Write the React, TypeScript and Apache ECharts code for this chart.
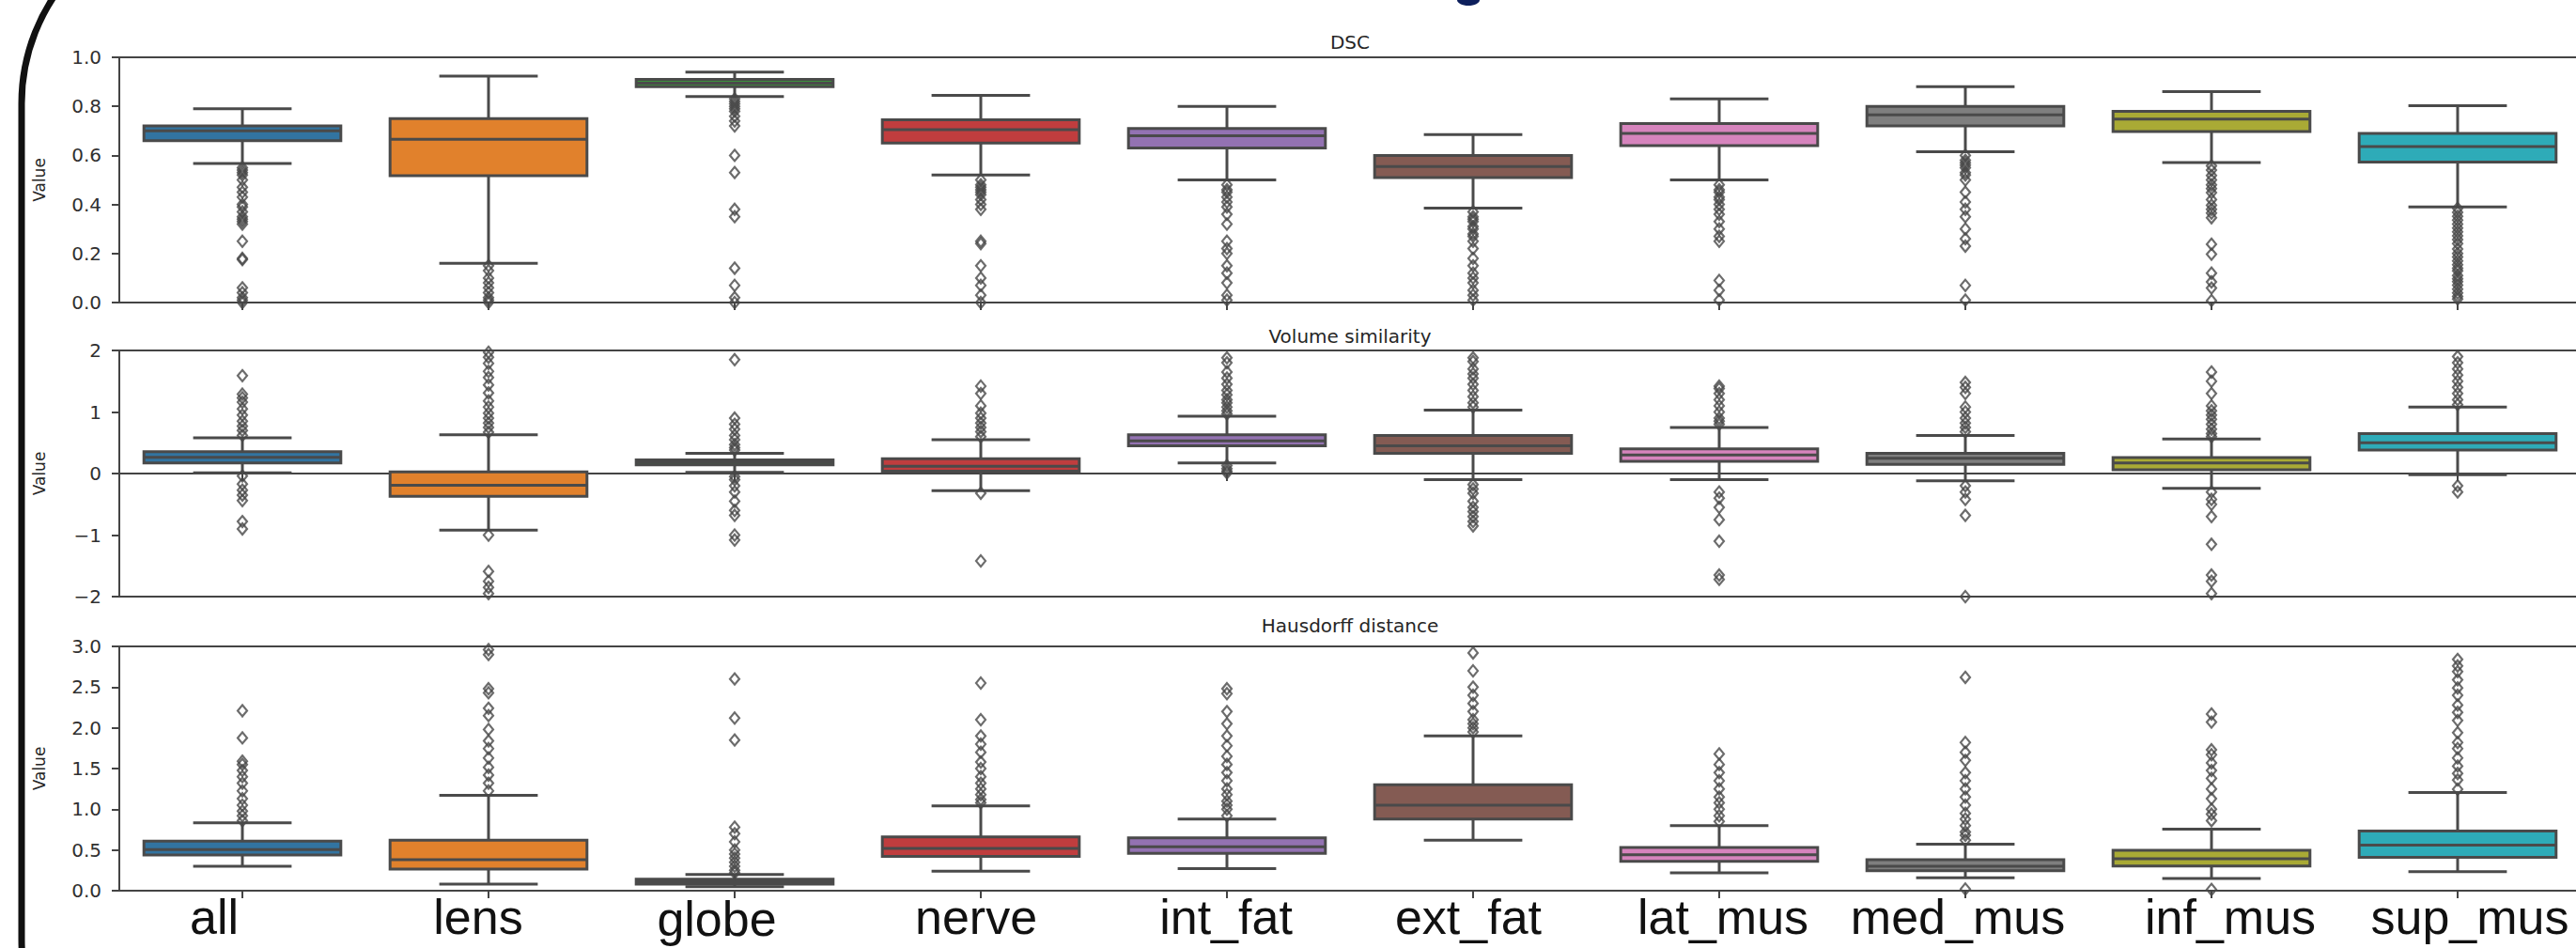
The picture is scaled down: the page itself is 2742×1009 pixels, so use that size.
import React, { useEffect, useRef } from "react";
import * as echarts from "echarts";

const categories = ["all", "lens", "globe", "nerve", "int_fat", "ext_fat", "lat_mus", "med_mus", "inf_mus", "sup_mus"];
const palette = ["#3274a1", "#e1812c", "#3a923a", "#c03d3e", "#9372b2", "#845b53", "#d684bd", "#7f7f7f", "#a9aa35", "#2eabb8"];

// [low whisker, Q1, median, Q3, high whisker]
const dscBoxes = [
  [0.567, 0.66, 0.7, 0.72, 0.79],
  [0.16, 0.517, 0.666, 0.75, 0.923],
  [0.84, 0.88, 0.895, 0.91, 0.94],
  [0.52, 0.65, 0.705, 0.745, 0.845],
  [0.5, 0.63, 0.68, 0.71, 0.8],
  [0.385, 0.51, 0.555, 0.6, 0.685],
  [0.5, 0.64, 0.69, 0.73, 0.83],
  [0.615, 0.72, 0.765, 0.8, 0.88],
  [0.571, 0.697, 0.748, 0.78, 0.86],
  [0.39, 0.573, 0.636, 0.69, 0.803],
];
const dscOutliers = [
  [0.55, 0.54, 0.53, 0.52, 0.5, 0.47, 0.45, 0.43, 0.4, 0.39, 0.37, 0.35, 0.34, 0.33, 0.32, 0.25, 0.18, 0.175, 0.06, 0.04, 0.02, 0.01, 0.0],
  [0.15, 0.13, 0.1, 0.08, 0.06, 0.04, 0.02, 0.01, 0.0],
  [0.83, 0.82, 0.81, 0.8, 0.79, 0.78, 0.76, 0.74, 0.72, 0.6, 0.53, 0.38, 0.35, 0.14, 0.07, 0.02, 0.0],
  [0.5, 0.48, 0.47, 0.46, 0.45, 0.44, 0.42, 0.4, 0.38, 0.25, 0.24, 0.15, 0.1, 0.07, 0.03, 0.0],
  [0.48, 0.46, 0.45, 0.43, 0.41, 0.39, 0.36, 0.32, 0.25, 0.22, 0.2, 0.15, 0.12, 0.08, 0.03, 0.01],
  [0.37, 0.35, 0.34, 0.33, 0.31, 0.3, 0.28, 0.27, 0.25, 0.22, 0.18, 0.15, 0.12, 0.1, 0.08, 0.05, 0.03, 0.01],
  [0.48, 0.46, 0.45, 0.43, 0.42, 0.4, 0.38, 0.36, 0.33, 0.3, 0.27, 0.25, 0.09, 0.05, 0.01],
  [0.6, 0.58, 0.57, 0.56, 0.55, 0.53, 0.52, 0.5, 0.45, 0.41, 0.38, 0.35, 0.3, 0.26, 0.23, 0.07, 0.01],
  [0.557, 0.54, 0.518, 0.5, 0.48, 0.465, 0.448, 0.42, 0.397, 0.38, 0.365, 0.346, 0.238, 0.197, 0.12, 0.084, 0.059, 0.008],
  [0.384, 0.368, 0.352, 0.336, 0.32, 0.304, 0.288, 0.272, 0.257, 0.24, 0.218, 0.2, 0.186, 0.17, 0.154, 0.14, 0.129, 0.11, 0.097, 0.085, 0.071, 0.055, 0.039, 0.025, 0.014],
];

const volBoxes = [
  [0.01, 0.173, 0.265, 0.356, 0.58],
  [-0.92, -0.37, -0.19, 0.026, 0.63],
  [0.02, 0.14, 0.18, 0.22, 0.33],
  [-0.28, 0.04, 0.12, 0.24, 0.55],
  [0.17, 0.45, 0.53, 0.63, 0.93],
  [-0.1, 0.33, 0.45, 0.62, 1.03],
  [-0.1, 0.2, 0.3, 0.4, 0.75],
  [-0.12, 0.15, 0.25, 0.33, 0.62],
  [-0.24, 0.06, 0.17, 0.26, 0.56],
  [-0.02, 0.38, 0.5, 0.65, 1.08],
];
const volOutliers = [
  [1.59, 1.29, 1.23, 1.16, 1.05, 0.95, 0.85, 0.77, 0.7, 0.62, -0.04, -0.17, -0.27, -0.35, -0.44, -0.78, -0.9],
  [0.67, 0.75, 0.82, 0.9, 0.98, 1.08, 1.18, 1.31, 1.44, 1.56, 1.66, 1.79, 1.89, 1.97, -1.0, -1.59, -1.75, -1.85, -1.95],
  [0.38, 0.42, 0.47, 0.55, 0.62, 0.72, 0.8, 0.9, 1.85, -0.05, -0.1, -0.2, -0.3, -0.45, -0.6, -0.68, -1.0, -1.08],
  [0.6, 0.68, 0.75, 0.82, 0.9, 0.98, 1.1, 1.3, 1.42, -0.32, -1.42],
  [0.97, 1.02, 1.08, 1.15, 1.2, 1.28, 1.35, 1.45, 1.55, 1.65, 1.8, 1.88, 0.13, 0.08, 0.04, 0.01],
  [1.08, 1.15, 1.25, 1.35, 1.45, 1.55, 1.62, 1.7, 1.82, 1.88, -0.18, -0.25, -0.32, -0.45, -0.55, -0.62, -0.7, -0.78, -0.85],
  [0.8, 0.85, 0.9, 1.0, 1.1, 1.2, 1.3, 1.38, 1.42, -0.3, -0.4, -0.55, -0.75, -1.1, -1.65, -1.72],
  [0.68, 0.75, 0.82, 0.9, 1.0, 1.08, 1.3, 1.4, 1.48, -0.2, -0.3, -0.42, -0.68, -2.0],
  [0.6, 0.65, 0.72, 0.8, 0.88, 0.95, 1.02, 1.1, 1.3, 1.5, 1.65, -0.3, -0.42, -0.5, -0.7, -1.15, -1.65, -1.75, -1.95],
  [1.12, 1.2, 1.3, 1.4, 1.5, 1.6, 1.7, 1.8, 1.9, -0.2, -0.3],
];

const hausBoxes = [
  [0.3, 0.438, 0.504, 0.61, 0.834],
  [0.08, 0.265, 0.38, 0.62, 1.17],
  [0.05, 0.08, 0.11, 0.14, 0.2],
  [0.24, 0.42, 0.52, 0.66, 1.04],
  [0.27, 0.46, 0.54, 0.65, 0.88],
  [0.62, 0.88, 1.05, 1.3, 1.9],
  [0.22, 0.36, 0.44, 0.53, 0.8],
  [0.158, 0.245, 0.3, 0.38, 0.57],
  [0.15, 0.304, 0.392, 0.496, 0.757],
  [0.235, 0.41, 0.56, 0.734, 1.207],
];
const hausOutliers = [
  [2.21, 1.876, 1.59, 1.55, 1.476, 1.4, 1.32, 1.226, 1.13, 1.05, 0.977, 0.92, 0.86],
  [2.96, 2.9, 2.48, 2.43, 2.24, 2.15, 1.98, 1.84, 1.745, 1.63, 1.515, 1.42, 1.32, 1.226],
  [0.22, 0.25, 0.3, 0.35, 0.4, 0.45, 0.5, 0.6, 0.7, 0.78, 1.85, 2.12, 2.6],
  [1.08, 1.12, 1.18, 1.25, 1.32, 1.4, 1.5, 1.58, 1.7, 1.8, 1.9, 2.1, 2.55],
  [0.92, 1.0, 1.05, 1.1, 1.18, 1.25, 1.35, 1.45, 1.55, 1.65, 1.78, 1.9, 2.05, 2.2, 2.42, 2.48],
  [1.95, 2.0, 2.05, 2.1, 2.2, 2.3, 2.4, 2.5, 2.7, 2.92],
  [0.85, 0.92, 1.0, 1.08, 1.15, 1.25, 1.35, 1.45, 1.55, 1.68],
  [0.62, 0.68, 0.72, 0.8, 0.88, 0.95, 1.05, 1.15, 1.25, 1.35, 1.45, 1.6, 1.7, 1.82, 2.62, 0.02],
  [0.86, 0.94, 1.0, 1.13, 1.25, 1.38, 1.476, 1.57, 1.67, 1.73, 2.07, 2.17, 0.015],
  [1.246, 1.36, 1.44, 1.53, 1.63, 1.745, 1.82, 1.94, 2.09, 2.19, 2.28, 2.4, 2.49, 2.59, 2.69, 2.76, 2.84],
];

const panelTitles = ["DSC", "Volume similarity", "Hausdorff distance"];
const yMin = [0, -2, 0];
const yMax = [1, 2, 3];
const yStep = [0.2, 1, 0.5];

const LINE = "#4a4a4a";
const SPINE = "#444444";
const TICKTXT = "#303030";

export default function App() {
  const ref = useRef<HTMLDivElement>(null);

  useEffect(() => {
    if (!ref.current) return;
    const chart = echarts.init(ref.current, undefined, { renderer: "svg" });

    const grids = [
      { left: 127, top: 61, width: 2620, height: 261 },
      { left: 127, top: 373, width: 2620, height: 262 },
      { left: 127, top: 688, width: 2620, height: 260 },
    ];
    const titleY = [45, 358, 666];

    // label horizontal nudges (px) to reproduce the hand-placed category labels
    const shift = [-30, -11, -19, -5, -1, -5, 4, -8, 20, 13];
    const drop = [0, 0, 4, 0, 0, 0, 0, 0, 0, 0];
    const rich: any = {};
    categories.forEach((_, i) => {
      rich["c" + i] = {
        fontSize: 52,
        lineHeight: 52,
        fontFamily: "Liberation Sans, Arial, sans-serif",
        color: "#111111",
        padding: [drop[i], shift[i] < 0 ? -2 * shift[i] : 0, 0, shift[i] > 0 ? 2 * shift[i] : 0],
      };
    });

    const renderBox = (params: any, api: any) => {
      const i = api.value(0);
      const pts = [1, 2, 3, 4, 5].map((k) => api.coord([i, api.value(k)]));
      const cx = pts[0][0];
      const band = api.size([1, 0])[0];
      const bw = band * 0.8;
      const cw = band * 0.4;
      const [lo, q1, med, q3, hi] = pts.map((p: number[]) => p[1]);
      const ls = { stroke: LINE, lineWidth: 3 };
      return {
        type: "group",
        children: [
          { type: "line", shape: { x1: cx, y1: q3, x2: cx, y2: hi }, style: ls },
          { type: "line", shape: { x1: cx, y1: q1, x2: cx, y2: lo }, style: ls },
          { type: "line", shape: { x1: cx - cw / 2, y1: hi, x2: cx + cw / 2, y2: hi }, style: ls },
          { type: "line", shape: { x1: cx - cw / 2, y1: lo, x2: cx + cw / 2, y2: lo }, style: ls },
          {
            type: "rect",
            shape: { x: cx - bw / 2, y: q3, width: bw, height: q1 - q3 },
            style: { fill: palette[i], stroke: LINE, lineWidth: 3 },
          },
          { type: "line", shape: { x1: cx - bw / 2, y1: med, x2: cx + bw / 2, y2: med }, style: ls },
        ],
      };
    };

    const boxesAll = [dscBoxes, volBoxes, hausBoxes];
    const outAll = [dscOutliers, volOutliers, hausOutliers];

    const fmt = (p: number) => (v: number) => {
      if (p === 1) return v < 0 ? "\u2212" + Math.abs(v) : String(v);
      return v.toFixed(1);
    };

    const option: any = {
      animation: false,
      backgroundColor: "#ffffff",
      grid: grids.map((g) => ({ ...g, show: true, borderColor: SPINE, borderWidth: 2, backgroundColor: "transparent" })),
      xAxis: grids.map((_, p) => ({
        type: "category",
        gridIndex: p,
        data: categories,
        boundaryGap: true,
        axisLine: { show: true, lineStyle: { color: SPINE, width: 2 } },
        axisTick: { show: true, alignWithLabel: true, interval: 0, length: 8, lineStyle: { color: SPINE, width: 2 } },
        axisLabel: {
          show: p === 2,
          interval: 0,
          margin: 2,
          formatter: (val: string, idx: number) => `{c${idx}|${val}}`,
          rich,
        },
        splitLine: { show: false },
      })),
      yAxis: grids.map((_, p) => ({
        type: "value",
        gridIndex: p,
        min: yMin[p],
        max: yMax[p],
        interval: yStep[p],
        name: "Value",
        nameLocation: "middle",
        nameGap: 77,
        nameTextStyle: { fontSize: 17, color: "#262626", fontFamily: "DejaVu Sans" },
        axisLine: { show: true, lineStyle: { color: SPINE, width: 2 } },
        axisTick: { show: true, length: 8, lineStyle: { color: SPINE, width: 2 } },
        axisLabel: { fontSize: 20, color: TICKTXT, fontFamily: "DejaVu Sans", margin: 19, formatter: fmt(p) },
        splitLine: { show: false },
      })),
      series: [
        ...boxesAll.map((b, p) => ({
          type: "custom",
          xAxisIndex: p,
          yAxisIndex: p,
          renderItem: renderBox,
          encode: { x: 0, y: [1, 2, 3, 4, 5] },
          data: b.map((row, i) => [i, ...row]),
          z: 2,
        })),
        ...outAll.map((o, p) => ({
          type: "scatter",
          xAxisIndex: p,
          yAxisIndex: p,
          symbol: "diamond",
          symbolSize: [10, 12],
          clip: false,
          itemStyle: { color: "rgba(255,255,255,0)", borderColor: "#474747", borderWidth: 2.2 },
          data: o.flatMap((arr, i) => arr.map((v) => [i, v])),
          z: 3,
        })),
      ],
      graphic: [
        {
          type: "rect",
          shape: { x: 23, y: -95, width: 3000, height: 1300, r: 205 },
          style: { fill: "none", stroke: "#111111", lineWidth: 7 },
          z: 10,
        },
        { type: "ellipse", shape: { cx: 1563, cy: 0, rx: 12, ry: 6 }, style: { fill: "#0d1f5c" }, z: 10 },
        ...panelTitles.map((t, p) => ({
          type: "text",
          x: 1437,
          y: titleY[p],
          style: {
            text: t,
            fontSize: 20,
            fontFamily: "DejaVu Sans",
            fill: "#262626",
            textAlign: "center",
            textVerticalAlign: "middle",
          },
          z: 10,
        })),
      ],
    };

    chart.setOption(option);
    return () => chart.dispose();
  }, []);

  return (
    <div style={{ position: "fixed", left: 0, top: 0, width: 2742, height: 1009, overflow: "hidden", background: "#fff" }}>
      <div ref={ref} style={{ width: 2770, height: 1009 }} />
    </div>
  );
}
